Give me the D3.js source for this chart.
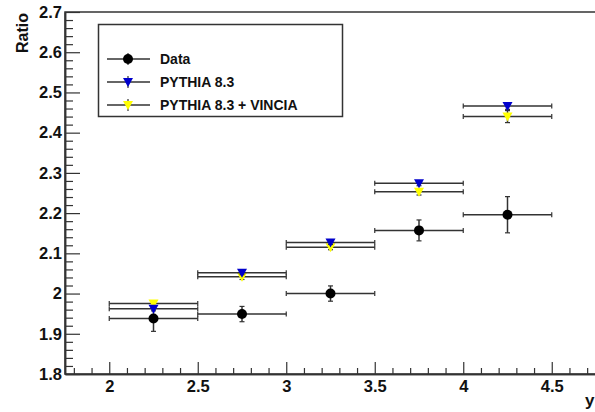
<!DOCTYPE html>
<html>
<head>
<meta charset="utf-8">
<script src="https://cdn.jsdelivr.net/npm/d3@7"></script>
<style>
  body { margin: 0; background: #fff; }
  text { font-family: "Liberation Sans", Arial, sans-serif; font-weight: bold; fill: #111; }
</style>
</head>
<body>
<div id="chart"></div>
<script>
// bin centres and half widths (rapidity bins)
var binCenters = [2.25, 2.75, 3.25, 3.75, 4.25];
var binHalfWidths = [0.25, 0.25, 0.25, 0.25, 0.25];

var dataValues = [1.938, 1.949, 2.0, 2.157, 2.196];
var dataErrors = [0.032, 0.019, 0.019, 0.026, 0.045];

var pythiaValues = [1.962, 2.052, 2.127, 2.274, 2.466];
var pythiaErrors = [0.005, 0.005, 0.005, 0.006, 0.008];

var vinciaValues = [1.975, 2.042, 2.115, 2.253, 2.440];
var vinciaErrors = [0.006, 0.007, 0.006, 0.008, 0.015];

var xMajorTicks = [2, 2.5, 3, 3.5, 4, 4.5];
var yMajorTicks = [1.8, 1.9, 2.0, 2.1, 2.2, 2.3, 2.4, 2.5, 2.6, 2.7];

var legendLabels = ["Data", "PYTHIA 8.3", "PYTHIA 8.3 + VINCIA"];

var width = 595, height = 412;
var margin = { top: 12, left: 65, bottom: 38 };

var svg = d3.select("#chart").append("svg")
    .attr("width", width)
    .attr("height", height);

var x = d3.scaleLinear().domain([1.75, 5.25]).range([margin.left, margin.left + 3.5 * 177]);
var y = d3.scaleLinear().domain([1.8, 2.7]).range([height - margin.bottom, margin.top]);

var axisColor = "#333";

// frame
svg.append("rect")
    .attr("x", x(1.75))
    .attr("y", y(2.7))
    .attr("width", x(5.25) - x(1.75))
    .attr("height", y(1.8) - y(2.7))
    .attr("fill", "none")
    .attr("stroke", axisColor)
    .attr("stroke-width", 1.5);

// x axis: minor ticks every 0.1, major every 0.5, ticks point inside
var xMinor = d3.range(18, 53).map(function (d) { return d / 10; })
    .filter(function (d) { return Math.abs(d * 2 - Math.round(d * 2)) > 1e-6; });

var gxMinor = svg.append("g")
    .attr("transform", "translate(0," + y(1.8) + ")")
    .call(d3.axisBottom(x).tickValues(xMinor).tickSizeInner(-6).tickSizeOuter(0).tickFormat(""));

var gx = svg.append("g")
    .attr("transform", "translate(0," + y(1.8) + ")")
    .call(d3.axisBottom(x).tickValues(xMajorTicks.concat([5])).tickSizeInner(-12).tickSizeOuter(0)
        .tickPadding(6)
        .tickFormat(function (d) { return xMajorTicks.indexOf(d) < 0 ? "" : String(+d.toFixed(1)); }));

// y axis: minor ticks every 0.02
var yMinor = d3.range(180, 271, 2).map(function (d) { return d / 100; })
    .filter(function (d) { return Math.abs(d * 10 - Math.round(d * 10)) > 1e-6; });

var gyMinor = svg.append("g")
    .attr("transform", "translate(" + x(1.75) + ",0)")
    .call(d3.axisLeft(y).tickValues(yMinor).tickSizeInner(-8).tickSizeOuter(0).tickFormat(""));

var gy = svg.append("g")
    .attr("transform", "translate(" + x(1.75) + ",0)")
    .call(d3.axisLeft(y).tickValues(yMajorTicks).tickSizeInner(-15).tickSizeOuter(0)
        .tickPadding(3)
        .tickFormat(function (d) { return String(+d.toFixed(1)); }));

[gx, gxMinor, gy, gyMinor].forEach(function (g) {
    g.selectAll("path.domain").attr("stroke", axisColor).attr("stroke-width", 1.5);
    g.selectAll(".tick line").attr("stroke", axisColor).attr("stroke-width", 1.2);
    g.selectAll("text").attr("font-size", "16.5px").attr("font-family", null).attr("fill", "#111");
});

// axis titles
svg.append("text")
    .attr("transform", "translate(28,13) rotate(-90)")
    .attr("text-anchor", "end")
    .attr("font-size", "16px")
    .text("Ratio");

svg.append("text")
    .attr("x", 585)
    .attr("y", 406)
    .attr("font-size", "17px")
    .text("y");

// build series rows
function rows(values, errors) {
    return binCenters.map(function (c, i) {
        return { x: c, xe: binHalfWidths[i], y: values[i], ye: errors[i] };
    });
}

var series = [
    { name: "data", rows: rows(dataValues, dataErrors), color: "#000", marker: "circle" },
    { name: "vincia", rows: rows(vinciaValues, vinciaErrors), color: "#ffff00", marker: "tri" },
    { name: "pythia", rows: rows(pythiaValues, pythiaErrors), color: "#0000cc", marker: "tri" }
];

var barColor = "#333";

function drawMarker(sel, s) {
    if (s.marker === "circle") {
        sel.append("circle").attr("r", 5).attr("fill", s.color);
    } else {
        sel.append("path")
            .attr("d", "M-5,-4L5,-4L0,5Z")
            .attr("fill", s.color);
    }
}

series.forEach(function (s) {
    var g = svg.append("g").attr("class", "series " + s.name);

    var pts = g.selectAll("g.pt")
        .data(s.rows)
        .enter().append("g")
        .attr("class", "pt");

    // horizontal bar
    pts.append("line")
        .attr("x1", function (d) { return x(d.x - d.xe); })
        .attr("x2", function (d) { return x(d.x + d.xe); })
        .attr("y1", function (d) { return y(d.y); })
        .attr("y2", function (d) { return y(d.y); })
        .attr("stroke", barColor)
        .attr("stroke-width", 1.5);

    // end caps on horizontal bar
    [-1, 1].forEach(function (sgn) {
        pts.append("line")
            .attr("x1", function (d) { return x(d.x + sgn * d.xe); })
            .attr("x2", function (d) { return x(d.x + sgn * d.xe); })
            .attr("y1", function (d) { return y(d.y) - 2.5; })
            .attr("y2", function (d) { return y(d.y) + 2.5; })
            .attr("stroke", barColor)
            .attr("stroke-width", 1.2);
    });

    // vertical error
    pts.append("line")
        .attr("x1", function (d) { return x(d.x); })
        .attr("x2", function (d) { return x(d.x); })
        .attr("y1", function (d) { return y(d.y + d.ye); })
        .attr("y2", function (d) { return y(d.y - d.ye); })
        .attr("stroke", barColor)
        .attr("stroke-width", 1.5);

    [-1, 1].forEach(function (sgn) {
        pts.append("line")
            .attr("x1", function (d) { return x(d.x) - 2.5; })
            .attr("x2", function (d) { return x(d.x) + 2.5; })
            .attr("y1", function (d) { return y(d.y + sgn * d.ye); })
            .attr("y2", function (d) { return y(d.y + sgn * d.ye); })
            .attr("stroke", barColor)
            .attr("stroke-width", 1.2);
    });

    var m = pts.append("g")
        .attr("transform", function (d) { return "translate(" + x(d.x) + "," + y(d.y) + ")"; });
    drawMarker(m, s);
});

// legend
var legend = svg.append("g").attr("class", "legend");

legend.append("rect")
    .attr("x", 98.5)
    .attr("y", 24.5)
    .attr("width", 244)
    .attr("height", 92)
    .attr("fill", "#fff")
    .attr("stroke", axisColor)
    .attr("stroke-width", 1.5);

var legendSeries = [series[0], series[2], series[1]];
var legendY = [59, 82, 105];

legendSeries.forEach(function (s, i) {
    var row = legend.append("g").attr("transform", "translate(0," + legendY[i] + ")");
    row.append("line")
        .attr("x1", 107).attr("x2", 150)
        .attr("y1", 0).attr("y2", 0)
        .attr("stroke", barColor)
        .attr("stroke-width", 1.5);
    row.append("line")
        .attr("x1", 128).attr("x2", 128)
        .attr("y1", -6).attr("y2", 6)
        .attr("stroke", barColor)
        .attr("stroke-width", 1.2);
    var m = row.append("g").attr("transform", "translate(128,0)");
    drawMarker(m, s);
    row.append("text")
        .attr("x", 160)
        .attr("y", 5)
        .attr("font-size", "14px")
        .text(legendLabels[i]);
});
</script>
</body>
</html>
